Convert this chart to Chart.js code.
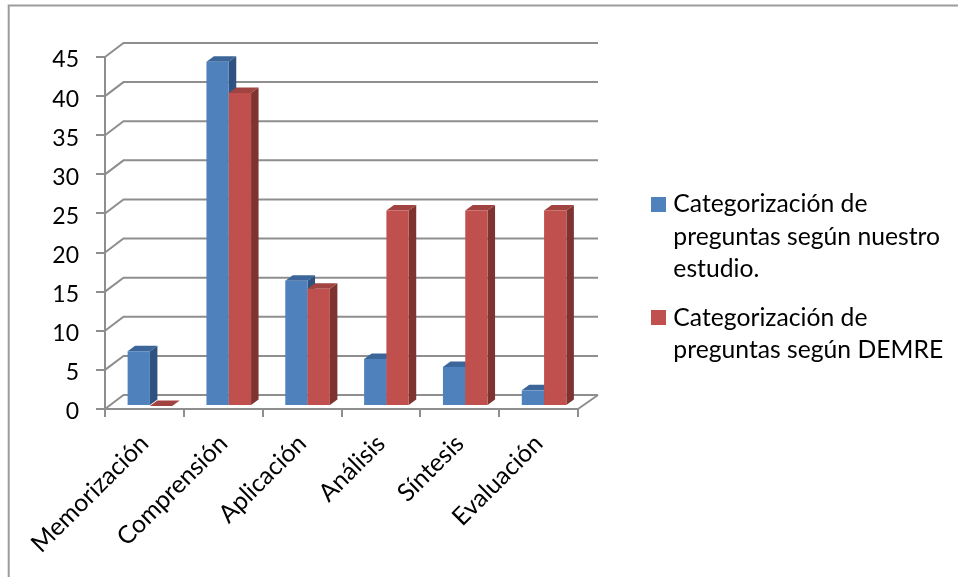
<!DOCTYPE html>
<html lang="es">
<head>
<meta charset="utf-8">
<title>Categorización de preguntas</title>
<script src="https://cdn.jsdelivr.net/npm/chart.js@4"></script>
<style>
  html, body { margin: 0; padding: 0; background: #fff; }
  #wrap { position: relative; width: 958px; height: 577px; }
</style>
</head>
<body>
<div id="wrap"><canvas id="chart" width="958" height="577"></canvas></div>
<script>
const categories = ["Memorización", "Comprensión", "Aplicación", "Análisis", "Síntesis", "Evaluación"];
const estudioValues = [7, 44, 16, 6, 5, 2];
const demreValues = [0, 40, 15, 25, 25, 25];
const estudioLabel = ["Categorización de", "preguntas según nuestro", "estudio."];
const demreLabel = ["Categorización de", "preguntas según DEMRE"];

const AXIS_GRAY = "#8e8e8e";
const WALL = { dx: 18.5, dy: -14 };     // offset from the front plane to the back wall
const FLOOR_EXTRA = 20;                 // back wall overhang to the right
const BAR_PLANE = { dx: 5.5, dy: -3 };  // bars stand slightly behind the front plane
const BAR_DEPTH = { dx: 7.5, dy: -5.5 };
const FACES = [
  { top: "#3c6699", side: "#2f5280" },
  { top: "#a14441", side: "#7e3331" }
];

// Square legend marker; drawn centred on a narrow layout box so the text sits close to it.
function swatch(color) {
  const c = document.createElement("canvas");
  c.width = 15; c.height = 15;
  const g = c.getContext("2d");
  g.fillStyle = color;
  g.fillRect(0, 0, 15, 15);
  return c;
}

function drawDepthFaces(ctx, meta, f) {
  meta.data.forEach(el => {
    const { x, y, base, width } = el.getProps(["x", "y", "base", "width"], true);
    const l = x - width / 2, r = x + width / 2;
    ctx.fillStyle = f.side;
    ctx.beginPath();
    ctx.moveTo(r, y);
    ctx.lineTo(r + BAR_DEPTH.dx, y + BAR_DEPTH.dy);
    ctx.lineTo(r + BAR_DEPTH.dx, base + BAR_DEPTH.dy);
    ctx.lineTo(r, base);
    ctx.closePath();
    ctx.fill();
    ctx.fillStyle = f.top;
    ctx.beginPath();
    ctx.moveTo(l, y);
    ctx.lineTo(l + BAR_DEPTH.dx, y + BAR_DEPTH.dy);
    ctx.lineTo(r + BAR_DEPTH.dx, y + BAR_DEPTH.dy);
    ctx.lineTo(r, y);
    ctx.closePath();
    ctx.fill();
  });
}

// Pseudo-3D walls, floor, bar depth and the page's corner rule.
const walls = {
  id: "walls",
  beforeDraw(chart) {
    const { ctx, width, height } = chart;
    ctx.save();
    ctx.strokeStyle = "#9c9c9c";
    ctx.lineWidth = 2;
    ctx.beginPath();
    ctx.moveTo(8.7, height);
    ctx.lineTo(8.7, 5.4);
    ctx.lineTo(width, 5.4);
    ctx.stroke();
    ctx.restore();
  },
  beforeDatasetsDraw(chart) {
    const { ctx, chartArea: a, scales: { y } } = chart;
    ctx.save();
    ctx.strokeStyle = AXIS_GRAY;
    ctx.lineWidth = 2;
    y.ticks.forEach(t => {
      const py = y.getPixelForValue(t.value);
      ctx.beginPath();
      ctx.moveTo(a.left, py);
      ctx.lineTo(a.left + WALL.dx, py + WALL.dy);
      ctx.lineTo(a.right + FLOOR_EXTRA, py + WALL.dy);
      ctx.stroke();
    });
    const py0 = y.getPixelForValue(0);
    ctx.beginPath();
    ctx.moveTo(a.right, py0);
    ctx.lineTo(a.right + FLOOR_EXTRA, py0 + WALL.dy);
    ctx.stroke();
    ctx.restore();

    // Painted left series first, so each red bar hides the blue side face next to it.
    ctx.save();
    ctx.translate(BAR_PLANE.dx, BAR_PLANE.dy);
    chart.data.datasets.forEach((d, i) => {
      const meta = chart.getDatasetMeta(i);
      drawDepthFaces(ctx, meta, FACES[i]);
      meta.controller.draw();
    });
    ctx.restore();
    return false;
  },
  afterLayout(chart) {
    // The legend floats in the free column to the right of the plot.
    const lg = chart.legend;
    const w = lg.right - lg.left, h = lg.bottom - lg.top;
    lg.left = 640; lg.right = 640 + w;
    lg.top = 176; lg.bottom = 176 + h;

    // Value labels sit a little below their tick marks.
    const yAxis = chart.scales.y;
    if (!yAxis.labelsNudged) {
      const drawLabels = yAxis.drawLabels.bind(yAxis);
      yAxis.drawLabels = area => {
        chart.ctx.save();
        chart.ctx.translate(0, 3);
        drawLabels(area);
        chart.ctx.restore();
      };
      yAxis.labelsNudged = true;
    }
  }
};

new Chart(document.getElementById("chart"), {
  type: "bar",
  data: {
    labels: categories,
    datasets: [
      { label: estudioLabel, data: estudioValues, backgroundColor: "#4f81bd" },
      { label: demreLabel, data: demreValues, backgroundColor: "#c0504d" }
    ]
  },
  plugins: [walls],
  options: {
    responsive: false,
    animation: false,
    layout: { padding: { top: 57, right: 380, left: 0, bottom: 0 } },
    datasets: { bar: { categoryPercentage: 0.566, barPercentage: 1 } },
    scales: {
      x: {
        afterFit(s) { s.height = 168; },
        border: { display: true, color: AXIS_GRAY, width: 2 },
        grid: { display: true, drawOnChartArea: false, drawTicks: true, tickLength: 8, color: AXIS_GRAY, lineWidth: 2, offset: true },
        ticks: { color: "#000", font: { family: "Lato", size: 24.7 }, minRotation: 45, maxRotation: 45, padding: 12 }
      },
      y: {
        min: 0, max: 45,
        afterFit(s) { s.width = 105; },
        border: { display: true, color: AXIS_GRAY, width: 2 },
        grid: { display: true, drawOnChartArea: false, drawTicks: true, tickLength: 9, color: AXIS_GRAY, lineWidth: 2 },
        ticks: { stepSize: 5, color: "#000", font: { family: "Lato", size: 23 }, padding: 17 }
      }
    },
    plugins: {
      title: { display: false },
      tooltip: { enabled: false },
      legend: {
        display: true,
        position: "chartArea",
        align: "start",
        labels: {
          usePointStyle: true,
          pointStyleWidth: 5,
          boxHeight: 15,
          padding: 16,
          color: "#000",
          font: { family: "Lato", size: 24.7, lineHeight: "32.5px" },
          generateLabels(chart) {
            return chart.data.datasets.map((d, i) => ({
              text: d.label, pointStyle: swatch(d.backgroundColor),
              fillStyle: d.backgroundColor, strokeStyle: d.backgroundColor,
              lineWidth: 0, datasetIndex: i
            }));
          }
        }
      }
    }
  }
});
</script>
</body>
</html>
